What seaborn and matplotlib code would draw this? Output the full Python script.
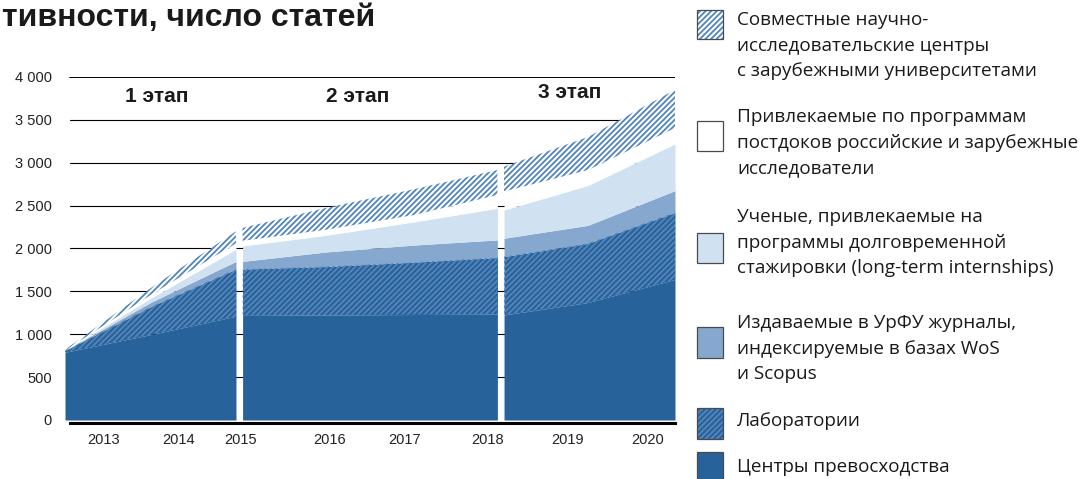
import matplotlib
matplotlib.use("Agg")
import matplotlib.pyplot as plt
from matplotlib.patches import Rectangle
import seaborn as sns
import numpy as np

# ── data (articles per year) ─────────────────────────────────────────
stage_names = ["1 этап", "2 этап", "3 этап"]
stage_years = [[2013, 2014, 2015], [2015, 2016, 2017, 2018], [2018, 2019, 2020]]
year_labels = ["2013", "2014", "2015", "2016", "2017", "2018", "2019", "2020"]

# one list per stage; stacked bottom -> top
centers   = [[790, 1000, 1210], [1220, 1225, 1230, 1235], [1225, 1370, 1640]]
labs      = [[20, 330, 550], [540, 565, 610, 660], [680, 690, 780]]
journals  = [[0, 50, 90], [90, 170, 200, 205], [215, 210, 255]]
longterm  = [[0, 50, 140], [180, 195, 270, 370], [330, 465, 545]]
postdocs  = [[0, 40, 70], [60, 65, 80, 155], [215, 180, 185]]
joint     = [[10, 80, 140], [150, 255, 300, 290], [290, 385, 445]]

series_names = [
    "Центры превосходства",
    "Лаборатории",
    "Издаваемые в УрФУ журналы,\nиндексируемые в базах WoS\nи Scopus",
    "Ученые, привлекаемые на\nпрограммы долговременной\nстажировки (long-term internships)",
    "Привлекаемые по программам\nпостдоков российские и зарубежные\nисследователи",
    "Совместные научно-\nисследовательские центры\nс зарубежными университетами",
]

DARK = "#27639a"
layers = [
    (centers,  DARK,      None,     None),
    (labs,     DARK,      "//////", "#5585ba"),
    (journals, "#87a8ce", None,     None),
    (longterm, "#d0e1f2", None,     None),
    (postdocs, "white",   None,     None),
    (joint,    "white",   "//////", "#4f84bd"),
]

sns.set_theme(style="white")
plt.rcParams["font.family"] = ["Liberation Sans", "DejaVu Sans"]
plt.rcParams["hatch.linewidth"] = 1.3

W, H = 1081, 479
fig = plt.figure(figsize=(W / 100, H / 100), dpi=100)
ax = fig.add_axes([65 / W, 1 - 423 / H, 610 / W, 346 / H])

# gridlines behind the areas
for v in range(500, 4001, 500):
    ax.axhline(v, xmin=0.008, color="black", lw=1.4 if v == 4000 else 0.8, zorder=1)

GAP = 0.038
for s, yrs in enumerate(stage_years):
    x = np.array(yrs, dtype=float)
    if s > 0:
        x[0] += GAP
    if s < len(stage_years) - 1:
        x[-1] -= GAP
    base = np.zeros(len(x))
    for vals, face, hatch, hcol in layers:
        top = base + np.array(vals[s], dtype=float)
        ax.fill_between(x, base, top, color=face, lw=0, zorder=2)
        if hatch:
            with plt.rc_context({"hatch.color": hcol}):
                ax.fill_between(x, base, top, facecolor="none", edgecolor=hcol,
                                hatch=hatch, lw=0, zorder=3)
        base = top

ax.set_xlim(2013, 2020)
ax.set_ylim(-35, 4000)
yt = list(range(0, 4001, 500))
ax.set_yticks(yt)
ax.set_yticklabels([f"{v:,}".replace(",", " ") for v in yt])
ax.set_xticks([2013.44, 2014.30, 2015.01, 2016.04, 2016.90, 2017.85, 2018.77, 2019.69])
ax.set_xticklabels(year_labels)
ax.tick_params(axis="y", length=0, pad=9.5, labelsize=10.5, colors="#222222")
ax.tick_params(axis="x", length=0, pad=7, labelsize=10.5, colors="#222222")
sns.despine(ax=ax, left=True, top=True, right=True)
ax.spines["bottom"].set_color("black")
ax.spines["bottom"].set_linewidth(2.2)
ax.spines["bottom"].set_bounds(2013.06, 2020)
ax.spines["bottom"].set_zorder(5)

for name, xf, yf in zip(stage_names, [0.151, 0.479, 0.828], [0.945, 0.945, 0.954]):
    ax.text(xf, yf, name, transform=ax.transAxes, ha="center", va="center",
            fontsize=15, fontweight="bold", color="#1a1a1a")

fig.text(2 / W, 1 - 18 / H, "тивности, число статей", ha="left", va="center",
         fontsize=23, fontweight="bold", color="#1a1a1a")

# ── legend, drawn by hand on a pixel overlay ─────────────────────────
lax = fig.add_axes([0, 0, 1, 1], facecolor="none")
lax.set_xlim(0, W)
lax.set_ylim(H, 0)
lax.axis("off")

box_top = [10, 121, 233, 327, 408, 452]
box_h = [29, 30, 30, 31, 31, 30]
text_y = [20, 117, 217, 323, 421, 467]
order = [5, 4, 3, 2, 1, 0]
for i, k in enumerate(order):
    _, face, hatch, hcol = layers[k]
    lax.add_patch(Rectangle((697, box_top[i]), 26, box_h[i], facecolor=face, lw=0))
    if hatch:
        with plt.rc_context({"hatch.color": hcol}):
            lax.add_patch(Rectangle((697, box_top[i]), 26, box_h[i], facecolor="none",
                                    edgecolor=hcol, hatch=hatch, lw=0))
    lax.add_patch(Rectangle((697, box_top[i]), 26, box_h[i], facecolor="none",
                            edgecolor="#4a4a4a", lw=0.9))
    for j, line in enumerate(series_names[k].split("\n")):
        lax.text(737, text_y[i] + j * 25.5, line, ha="left", va="center",
                 fontsize=13.6, family="Open Sans", color="#1a1a1a")

fig.savefig("out.png", dpi=100)
